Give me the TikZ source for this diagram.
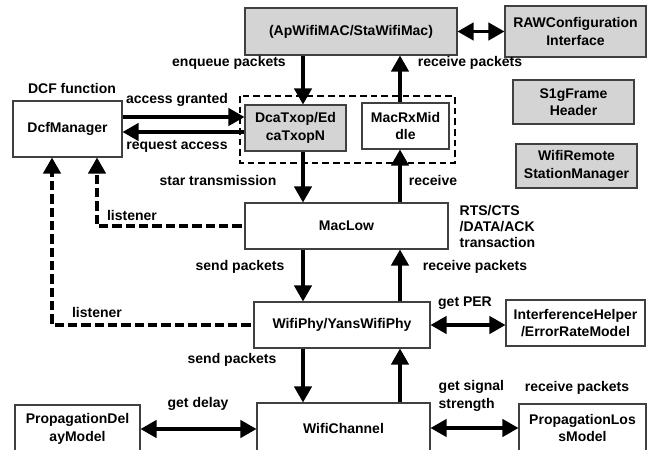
\documentclass[tikz,border=0pt]{standalone}
\usepackage{fontspec}
\setmainfont{Liberation Sans}
\usetikzlibrary{arrows.meta}
\begin{document}
\begin{tikzpicture}[x=0.75pt,y=-0.75pt,
  every node/.style={font=\fontsize{10.5}{13}\selectfont\bfseries},
  box/.style={draw=black!75,line width=0.8pt,fill=white,align=center,inner sep=0pt},
  gbox/.style={box,fill=black!17},
  arr/.style={line width=2.4pt,-{Triangle[length=12pt,width=13pt]}},
  darr/.style={line width=2.4pt,{Triangle[length=12pt,width=13pt]}-{Triangle[length=12pt,width=13pt]}},
  listen/.style={line width=2.4pt,dash pattern=on 7pt off 3pt,-{Triangle[length=12pt,width=13pt]}},
  grp/.style={line width=1.2pt,dash pattern=on 5pt off 3pt}]
\useasboundingbox (0,0) rectangle (651,450);
\draw[grp] (240,96) rectangle (455,163);
\node[gbox,minimum width=159pt,minimum height=35.25pt] (mac) at (351,31.5) {(ApWifiMAC/StaWifiMac)};
\node[gbox,minimum width=105.75pt,minimum height=38.25pt] (raw) at (575.5,31.5) {RAWConfiguration\\Interface};
\node[gbox,minimum width=90.75pt,minimum height=33pt] (s1g) at (573.5,102) {S1gFrame\\Header};
\node[gbox,minimum width=90.75pt,minimum height=33pt] (remote) at (576.5,166) {WifiRemote\\StationManager};
\node[gbox,minimum width=75.75pt,minimum height=34.5pt] (dca) at (295.5,128) {DcaTxop/Ed\\caTxopN};
\node[box,minimum width=65.25pt,minimum height=34.5pt] (rxmid) at (405.5,126) {MacRxMid\\dle};
\node[box,minimum width=81.75pt,minimum height=42pt] (dcf) at (67.5,129) {DcfManager};
\node[box,minimum width=152.25pt,minimum height=34.5pt] (maclow) at (346.5,226) {MacLow};
\node[box,minimum width=132pt,minimum height=34.5pt] (phy) at (342,325) {WifiPhy/YansWifiPhy};
\node[box,minimum width=104.25pt,minimum height=34.5pt] (interf) at (575.5,323) {InterferenceHelper\\/ErrorRateModel};
\node[box,minimum width=129.75pt,minimum height=37.5pt] (channel) at (343.5,428) {WifiChannel};
\node[box,minimum width=93.75pt,minimum height=36pt] (pdelay) at (77.5,429) {PropagationDel\\ayModel};
\node[box,minimum width=95.25pt,minimum height=36pt] (ploss) at (582.5,428) {PropagationLos\\sModel};
\coordinate (xl) at (303,0);
\coordinate (xr) at (400,0);
\coordinate (ya) at (0,117);
\coordinate (yr) at (0,132);
\coordinate (l1) at (97,0);
\coordinate (l2) at (52,0);
\draw[arr] (mac.south -| xl) -- (dca.north -| xl);
\draw[arr] (rxmid.north -| xr) -- (mac.south -| xr);
\draw[arr] (dcf.east |- ya) -- (dca.west |- ya);
\draw[arr] (dca.west |- yr) -- (dcf.east |- yr);
\draw[arr] (dca.south -| xl) -- (maclow.north -| xl);
\draw[arr] (maclow.north -| xr) -- (rxmid.south -| xr);
\draw[arr] (maclow.south -| xl) -- (phy.north -| xl);
\draw[arr] (phy.north -| xr) -- (maclow.south -| xr);
\draw[arr] (phy.south -| xl) -- (channel.north -| xl);
\draw[arr] (channel.north -| xr) -- (phy.south -| xr);
\draw[darr] (mac.east) -- (raw.west);
\draw[darr] (phy.east) -- (interf.west |- phy.east);
\draw[darr] (pdelay.east) -- (channel.west |- pdelay.east);
\draw[darr] (channel.east) -- (ploss.west |- channel.east);
\draw[listen] ([xshift=-2pt]maclow.west) -| (dcf.south -| l1);
\draw[listen] ([xshift=-2pt]phy.west) -| (dcf.south -| l2);
\node (t1) at (229,63) {enqueue packets};
\node (t2) at (470,63) {receive packets};
\node (t3) at (72,88) {DCF function};
\node (t4) at (177,100) {access granted};
\node (t5) at (177,146) {request access};
\node (t6) at (218,180) {star transmission};
\node (t7) at (433,180) {receive};
\node (t8) at (132,215) {listener};
\node[anchor=west,align=left,font=\fontsize{10.5}{12}\selectfont\bfseries] (t9) at (455,226) {RTS/CTS\\/DATA/ACK\\transaction};
\node (t10) at (240,267) {send packets};
\node (t11) at (475,267) {receive packets};
\node (t12) at (97,312) {listener};
\node (t13) at (465,303) {get PER};
\node (t14) at (232,360) {send packets};
\node (t15) at (198,404) {get delay};
\node[anchor=west,align=left] (t16) at (434,396) {get signal\\strength};
\node (t17) at (577,388) {receive packets};
\end{tikzpicture}
\end{document}
